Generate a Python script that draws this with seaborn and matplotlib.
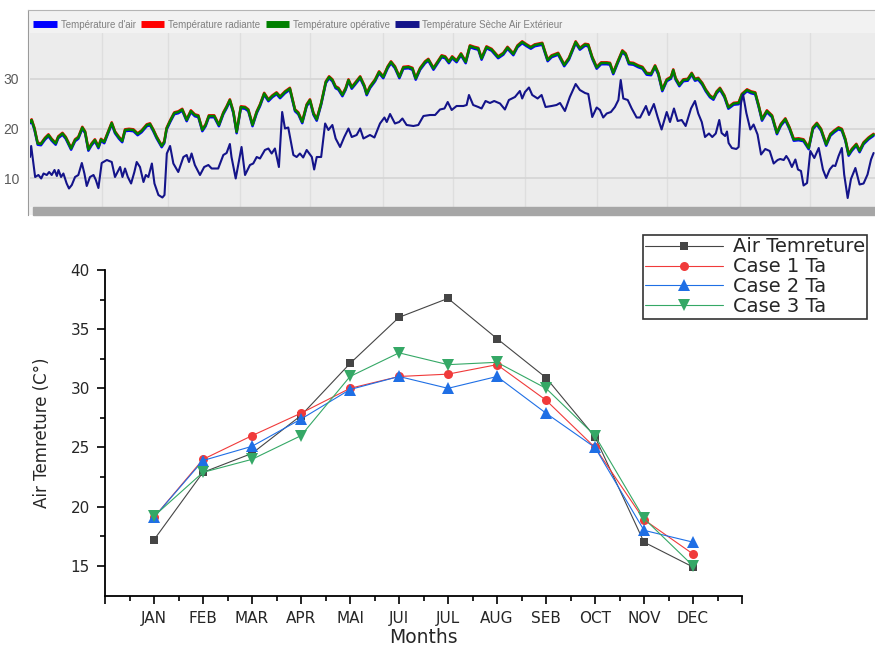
import numpy as np
import matplotlib
matplotlib.use('Agg')  # no display

import matplotlib.pyplot as plt
import matplotlib.transforms as mtransforms
from matplotlib.lines import Line2D
from matplotlib.patches import Rectangle
import seaborn as sns

# -------------------------
# Top panel : daily temperatures over the year
# -------------------------

# indoor curves (air / radiant / operative overlap within reading precision)
in_days = [0.0, 0.7, 1.9, 3.3, 4.7, 6.4, 7.9, 9.3, 11.0, 12.1, 13.9, 15.3, 17.6, 19.3, 20.7,
           22.4, 23.6, 25.0, 26.4, 27.8, 29.3, 30.4, 31.8, 33.3, 35.0, 36.4, 38.1, 39.5, 40.7,
           42.4, 44.3, 46.1, 47.8, 50.0, 51.4, 52.8, 54.2, 56.4, 57.5, 58.5, 60.0, 61.8, 63.5,
           65.2, 67.1, 68.9, 70.6, 72.1, 73.8, 75.2, 76.6, 78.9, 80.9, 82.8, 84.2, 85.6, 87.1,
           88.5, 90.3, 92.1, 93.5, 95.3, 97.1, 98.5, 100.3, 102.1, 103.8, 105.6, 107.1, 109.2,
           111.3, 113.5, 114.9, 116.6, 118.5, 119.9, 121.4, 122.8, 124.7, 126.7, 128.1, 129.5,
           130.9, 132.1, 133.8, 135.2, 136.4, 137.8, 139.2, 141.4, 143.2, 144.2, 145.6, 147.8,
           149.5, 151.3, 153.2, 154.6, 156.3, 158.2, 159.9, 162.1, 163.8, 165.2, 167.1, 169.2,
           170.6, 172.8, 174.2, 176.3, 177.8, 179.4, 180.8, 182.7, 184.6, 186.6, 188.4, 190.3,
           192.0, 193.4, 195.5, 197.7, 200.5, 202.7, 204.5, 207.0, 208.8, 210.8, 212.7, 214.5,
           216.2, 219.4, 221.7, 223.4, 226.2, 228.8, 230.8, 233.7, 235.5, 237.7, 239.1, 240.8,
           242.7, 244.6, 247.0, 248.4, 249.8, 251.7, 253.7, 255.1, 256.5, 258.4, 260.5, 262.3,
           264.1, 266.0, 267.7, 269.1, 270.8, 272.7, 274.5, 275.5, 276.5, 278.1, 279.8, 281.7,
           283.4, 284.8, 286.2, 287.9, 289.4, 291.2, 292.7, 294.1, 295.5, 297.4, 299.1, 301.4,
           303.5, 304.9, 307.1, 308.8, 310.6, 312.1, 313.5, 315.6, 317.8, 319.9, 321.6, 323.5,
           325.3, 327.1, 329.2, 331.3, 333.5, 335.3, 337.0, 338.8, 341.0, 342.8, 344.5, 346.3,
           347.7, 349.2, 350.6, 352.0, 353.9, 355.3, 357.0, 359.2, 361.3]
t_indoor = [21.3, 21.7, 20.0, 17.0, 16.9, 18.0, 18.7, 17.8, 17.0, 18.3, 19.0, 18.2, 16.0, 17.7, 18.2,
            20.2, 19.3, 15.8, 16.9, 17.7, 16.3, 17.8, 17.3, 19.1, 21.1, 19.3, 18.2, 17.5, 19.7,
            19.8, 19.7, 18.9, 19.5, 20.7, 20.9, 19.7, 18.3, 16.5, 17.3, 20.0, 21.5, 23.1, 23.3,
            23.8, 21.7, 23.5, 22.7, 22.5, 19.7, 20.7, 22.5, 22.5, 20.7, 23.1, 24.3, 25.7, 23.3,
            19.3, 24.3, 24.2, 23.7, 20.7, 23.3, 24.7, 27.0, 25.7, 26.5, 27.1, 26.3, 27.3,
            28.0, 23.7, 23.1, 21.3, 24.7, 25.7, 23.0, 21.8, 25.0, 29.3, 30.3, 29.7,
            28.3, 28.0, 26.7, 28.0, 29.7, 28.2, 29.0, 30.3, 28.5, 26.9, 28.3, 29.7,
            31.3, 30.3, 32.3, 33.3, 32.3, 30.3, 32.2, 32.3, 32.0, 30.0, 32.0, 33.3,
            33.8, 32.0, 33.0, 34.5, 34.3, 33.3, 34.3, 33.5, 34.9, 33.3, 36.5, 36.2,
            36.0, 34.0, 36.3, 35.8, 34.3, 35.0, 36.2, 34.9, 36.5, 37.3, 36.7, 36.2,
            36.7, 37.0, 33.7, 34.5, 35.0, 32.7, 34.0, 37.3, 36.0, 36.8, 36.7, 34.2,
            32.2, 33.1, 33.1, 33.0, 31.1, 33.3, 35.5, 34.9, 33.1, 33.0, 32.5, 32.2,
            31.0, 30.9, 32.5, 31.0, 27.7, 29.7, 30.2, 31.7, 30.0, 28.7, 29.7, 29.8,
            31.0, 29.8, 30.0, 29.0, 27.7, 26.5, 26.0, 27.3, 28.0, 26.5, 24.2, 25.0,
            25.1, 26.8, 27.7, 27.3, 27.1, 24.5, 21.8, 23.5, 22.5, 19.1, 20.8, 21.9,
            20.1, 17.8, 17.9, 17.7, 16.1, 20.1, 21.0, 19.8, 16.8, 18.8, 19.5, 20.1,
            19.8, 17.8, 14.8, 15.8, 16.8, 15.5, 17.1, 18.1, 18.8]

# outdoor dry air temperature
out_days = [0.0, 0.5, 2.2, 3.6, 4.8, 5.8, 7.2, 8.2, 9.3, 10.5, 11.5, 12.2, 13.3, 14.3, 15.7,
            16.7, 17.9, 19.3, 20.7, 22.2, 23.3, 24.3, 25.7, 27.2, 28.2, 29.3, 30.7, 32.9, 35.0,
            36.4, 38.6, 39.6, 40.7, 41.9, 43.3, 44.7, 45.7, 47.1, 48.6, 49.6, 50.7, 52.2, 53.3,
            55.0, 56.7, 57.6, 58.6, 60.0, 61.4, 63.5, 65.7, 67.1, 68.1, 69.2, 70.6, 72.8, 74.6,
            76.4, 77.8, 80.6, 82.8, 84.2, 85.6, 86.3, 88.1, 90.6, 92.1, 94.2, 95.6, 97.1, 98.5,
            100.6, 102.1, 103.5, 104.9, 106.6, 108.0, 109.2, 110.6, 112.8, 114.2, 115.6, 117.0,
            118.5, 120.7, 121.7, 122.8, 124.7, 126.4, 127.8, 129.5, 130.9, 132.8, 134.6, 136.4,
            137.8, 139.9, 141.4, 142.8, 145.6, 147.5, 149.9, 151.8, 152.8, 154.2, 156.3, 158.1,
            159.5, 161.3, 164.2, 166.3, 168.5, 171.3, 173.5, 175.6, 177.5, 178.9, 180.6, 182.7,
            185.6, 187.0, 188.0, 189.8, 192.0, 193.4, 195.1, 197.0, 198.8, 201.3, 203.4, 205.1,
            207.7, 209.8, 210.8, 212.0, 213.7, 215.1, 217.4, 219.1, 220.8, 223.4, 225.5, 227.0,
            229.1, 231.2, 233.7, 235.5, 237.7, 239.1, 240.8, 242.7, 244.1, 245.5, 247.0, 248.8,
            250.5, 252.0, 253.0, 254.1, 256.0, 257.7, 259.8, 261.3, 263.8, 265.1, 267.2, 268.8,
            270.5, 272.7, 274.1, 275.8, 277.4, 279.1, 280.8, 283.1, 284.8, 286.2, 287.7, 289.1,
            290.8, 292.2, 293.7, 295.2, 296.2, 297.7, 298.5, 299.2, 300.6, 302.5, 303.5, 304.5,
            305.4, 306.8, 308.5, 309.9, 311.6, 313.1, 314.9, 316.8, 318.5, 320.2, 321.3, 322.8,
            323.9, 324.9, 326.3, 327.8, 328.9, 330.2, 331.3, 332.8, 334.2, 335.9, 337.8, 339.6,
            341.0, 342.5, 343.9, 344.9, 346.3, 347.7, 348.7, 350.2, 351.6, 353.5, 355.3, 357.0,
            358.7, 360.2, 361.3]
t_outdoor = [14.3, 16.5, 10.3, 10.7, 10.0, 11.0, 10.7, 11.3, 10.7, 11.7, 10.5, 11.7, 10.3, 11.0, 9.0,
             8.0, 8.7, 10.3, 10.7, 13.1, 11.0, 8.5, 10.3, 10.7, 9.7, 8.1, 13.1, 13.7, 13.3,
             10.3, 12.3, 10.3, 12.0, 10.3, 9.0, 11.3, 13.3, 12.3, 9.3, 10.7, 10.3, 13.0, 9.0,
             6.7, 6.2, 6.7, 15.0, 16.5, 13.0, 11.3, 14.3, 14.7, 13.3, 15.0, 12.7, 10.7, 12.3,
             12.7, 12.0, 12.0, 14.7, 15.1, 16.9, 14.3, 10.0, 16.3, 10.7, 12.7, 13.0, 14.3, 14.0,
             15.7, 16.0, 15.0, 16.0, 12.3, 23.3, 20.0, 20.2, 14.7, 14.3, 15.0, 14.2,
             15.7, 14.3, 11.8, 14.3, 14.3, 21.0, 19.7, 20.7, 18.0, 16.3, 18.3, 20.0,
             18.3, 18.7, 20.0, 18.0, 18.7, 18.2, 21.0, 22.2, 21.3, 22.9, 21.0, 21.3,
             22.0, 20.7, 20.5, 20.7, 22.5, 22.7, 22.7, 23.8, 24.0, 25.3, 23.7, 24.5,
             24.5, 24.7, 26.7, 24.7, 24.3, 24.0, 25.5, 25.1, 25.5, 25.0, 23.8, 25.7,
             26.3, 27.5, 26.0, 27.3, 28.2, 26.7, 26.0, 26.7, 24.3, 24.5, 24.7, 25.1,
             23.5, 26.3, 28.9, 27.7, 27.1, 26.9, 22.3, 24.2, 23.7, 22.2, 23.0, 23.3,
             24.3, 25.7, 29.7, 26.0, 25.7, 24.0, 22.2, 22.2, 24.5, 22.7, 24.9, 22.3,
             19.8, 23.3, 21.3, 24.0, 21.5, 21.7, 20.5, 24.0, 25.5, 23.0, 21.3, 18.3,
             19.0, 18.3, 19.0, 21.7, 19.1, 18.5, 19.4, 17.1, 16.1, 15.9, 16.3, 25.1,
             26.8, 23.1, 19.8, 20.8, 18.8, 14.8, 15.9, 15.5, 13.0, 13.7, 13.9, 13.7,
             14.5, 13.8, 12.3, 13.8, 11.8, 11.5, 8.6, 9.1, 15.5, 14.1, 16.1, 11.8,
             10.1, 11.8, 12.6, 12.5, 14.5, 16.1, 10.8, 6.1, 9.9, 12.1, 8.8, 9.0,
             10.8, 13.8, 15.1]

month_starts = [31, 59, 90, 120, 151, 181, 212, 243, 273, 304, 334]
top_labels = ["Température d'air", "Température radiante", "Température opérative",
              "Température Sèche Air Extérieur"]

# -------------------------
# Bottom panel : monthly air temperature
# -------------------------

months = ['JAN', 'FEB', 'MAR', 'APR', 'MAI', 'JUI', 'JUL', 'AUG', 'SEB', 'OCT', 'NOV', 'DEC']
air_temp = [17.2, 22.9, 24.5, 27.7, 32.1, 36.0, 37.6, 34.2, 30.9, 25.9, 17.0, 14.9]
case1_ta = [19.1, 24.0, 26.0, 27.9, 30.0, 31.0, 31.2, 32.0, 29.0, 25.0, 18.9, 16.0]
case2_ta = [19.1, 23.9, 25.1, 27.4, 29.9, 31.0, 30.0, 31.0, 27.9, 25.0, 18.0, 17.0]
case3_ta = [19.2, 22.9, 24.0, 26.0, 31.0, 33.0, 32.0, 32.2, 30.0, 26.0, 19.0, 15.0]
bottom_labels = ['Air Temreture', 'Case 1 Ta', 'Case 2 Ta', 'Case 3 Ta']

sns.set_style('white')
plt.rcParams['font.family'] = ['DejaVu Sans']

W, H = 875, 646
fig = plt.figure(figsize=(W / 100, H / 100), dpi=100)

# ---- top panel frame
frame = fig.add_axes([28 / W, 1 - 215 / H, 847 / W, 205 / H])
frame.set_facecolor('#f2f2f2')
frame.set_xticks([])
frame.set_yticks([])
for s in ['right', 'bottom']:
    frame.spines[s].set_visible(False)
frame.spines['left'].set_color('#9a9a9a')
frame.spines['top'].set_color('#b5b5b5')
fig.patches.append(Rectangle((33 / W, 1 - 215 / H), 842 / W, 8 / H,
                             transform=fig.transFigure, color='#a6a6a6', zorder=5))

top = fig.add_axes([30 / W, 1 - 207 / H, 845 / W, 174 / H])
top.set_facecolor('#ececec')
for s in top.spines.values():
    s.set_visible(False)

low = mtransforms.offset_copy(top.transData, fig=fig, y=-1.2, units='dots')
high = mtransforms.offset_copy(top.transData, fig=fig, y=0.7, units='dots')
sns.lineplot(x=in_days, y=t_indoor, ax=top, color='#0000ff', lw=1.8, estimator=None,
             sort=False, transform=low)
sns.lineplot(x=in_days, y=t_indoor, ax=top, color='#ff0000', lw=1.8, estimator=None,
             sort=False, transform=high)
sns.lineplot(x=in_days, y=t_indoor, ax=top, color='#008000', lw=1.8, estimator=None, sort=False)
sns.lineplot(x=out_days, y=t_outdoor, ax=top, color='#14148a', lw=1.5, estimator=None, sort=False)

top.set_xlim(0, 361.9)
top.set_ylim(4.3, 39.1)
top.set_xticks(month_starts)
top.set_xticklabels([])
top.set_yticks([10, 20, 30])
top.set_yticklabels(['10', '20', '30'], family=['Liberation Sans', 'DejaVu Sans'])
top.tick_params(axis='x', length=0)
top.tick_params(axis='y', length=3, color='#9a9a9a', labelsize=10, labelcolor='#5a5a5a', pad=5)
top.grid(True, axis='x', color='#dedede', lw=1)
top.grid(True, axis='y', color='#d6d6d6', lw=1.3)
top.set_xlabel('')
top.set_ylabel('')

top_handles = [Line2D([], [], color=c, lw=5, solid_capstyle='butt')
               for c in ['#0000ff', '#ff0000', '#008000', '#14148a']]
top.legend(top_handles, top_labels, loc='lower left', bbox_to_anchor=(0.0, 1.0), ncol=4,
           frameon=False, labelcolor='#808080', handlelength=2.4,
           handletextpad=0.4, columnspacing=0.55, borderaxespad=0.15, borderpad=0.2,
           prop={'family': ['Liberation Sans', 'DejaVu Sans'], 'size': 7.0})

# ---- bottom panel
ax = fig.add_axes([105 / W, 50 / H, 637 / W, 326 / H])
pos = np.arange(1, 13)
styles = [(air_temp, '#454545', 's', 6), (case1_ta, '#f03a3a', 'o', 6.5),
          (case2_ta, '#1f6fe5', '^', 8), (case3_ta, '#35a866', 'v', 8)]
for (vals, col, mk, ms), lab in zip(styles, bottom_labels):
    sns.lineplot(x=pos, y=vals, ax=ax, color=col, lw=0.8, marker=mk, markersize=ms,
                 markeredgecolor=col, markeredgewidth=0, label=lab, estimator=None)

ax.set_xlim(0, 13)
ax.set_ylim(12.45, 40)
ax.set_xticks(range(0, 14))
ax.set_xticklabels([''] + months + [''])
ax.set_xticks(np.arange(0.5, 13, 1), minor=True)
ax.set_yticks([15, 20, 25, 30, 35, 40])
ax.set_yticks([17.5, 22.5, 27.5, 32.5, 37.5], minor=True)
ax.tick_params(which='major', direction='out', length=6, width=1.2, color='black',
               labelsize=11, bottom=True, left=True, pad=5)
ax.tick_params(which='minor', direction='out', length=3.5, width=1.2, color='black',
               bottom=True, left=True)
for s in ['top', 'right']:
    ax.spines[s].set_visible(False)
for s in ['left', 'bottom']:
    ax.spines[s].set_linewidth(1.3)
    ax.spines[s].set_color('black')
ax.set_xlabel('Months', fontsize=13.5, labelpad=1)
ax.set_ylabel('Air Temreture (C°)', fontsize=12, labelpad=14)

handles, labels = ax.get_legend_handles_labels()
ax.get_legend().remove()
leg = fig.legend(handles, labels, loc='upper right', bbox_to_anchor=(867 / W, 1 - 235 / H),
                 fontsize=14, handlelength=4.0, handletextpad=0.5, labelspacing=0.05,
                 borderpad=0.12, borderaxespad=0.0, fancybox=False, framealpha=1)
leg.get_frame().set_edgecolor('#333333')
leg.get_frame().set_linewidth(1.2)

fig.savefig('out.png', dpi=100)
